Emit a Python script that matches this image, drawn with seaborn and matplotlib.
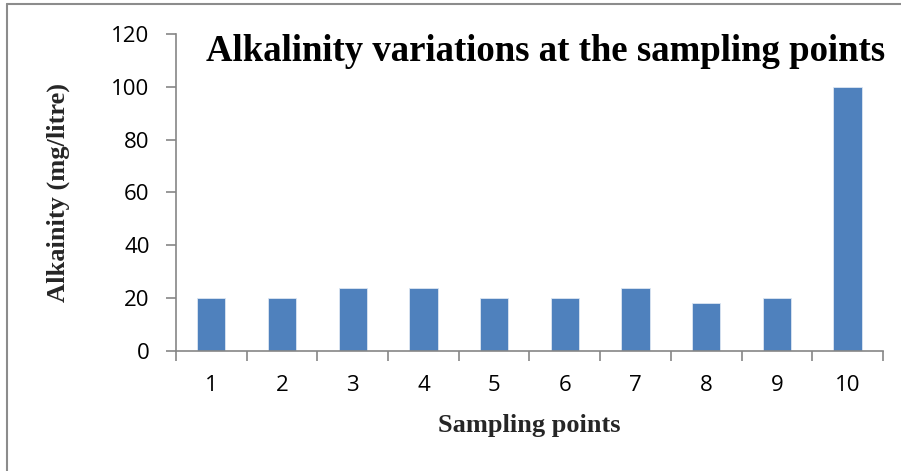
import matplotlib
matplotlib.use("Agg")
import matplotlib.pyplot as plt
import seaborn as sns
import pandas as pd
from matplotlib.lines import Line2D

# data
sampling_points = ["1", "2", "3", "4", "5", "6", "7", "8", "9", "10"]
alkalinity = [20, 20, 24, 24, 20, 20, 24, 18, 20, 100]

df = pd.DataFrame({"Sampling points": sampling_points, "Alkalinity": alkalinity})

sns.set_theme(style="white")
plt.rcParams["font.family"] = ["Open Sans", "DejaVu Sans"]

fig = plt.figure(figsize=(9.01, 4.71), dpi=100)
ax = fig.add_axes([0.1953, 0.2548, 0.7847, 0.673])

sns.barplot(data=df, x="Sampling points", y="Alkalinity", order=sampling_points,
            color="#4F81BD", saturation=1, width=0.4, edgecolor="#dce6f2",
            linewidth=0.6, ax=ax)

ax.set_xlim(-0.5, 9.5)
ax.set_ylim(0, 120)
ax.set_yticks(range(0, 121, 20))

grey = "#868686"
for side in ["top", "right"]:
    ax.spines[side].set_visible(False)
for side in ["left", "bottom"]:
    ax.spines[side].set_color(grey)
    ax.spines[side].set_linewidth(1.2)

# y ticks outward, x tick marks between categories
ax.tick_params(axis="y", which="major", direction="out", length=7, width=1.2,
               color=grey, labelsize=16, pad=12, left=True)
ax.tick_params(axis="x", which="major", length=0, labelsize=16, pad=17)
ax.set_xticks([i - 0.5 for i in range(11)], minor=True)
ax.tick_params(axis="x", which="minor", direction="out", length=7, width=1.2,
               color=grey, bottom=True)
for lbl in ax.get_xticklabels() + ax.get_yticklabels():
    lbl.set_color("black")

ax.set_xlabel("Sampling points", fontsize=19, fontweight="bold",
              family="Liberation Serif")
ax.set_ylabel("Alkainity (mg/litre)", fontsize=19, fontweight="bold",
              family="Liberation Serif")
ax.xaxis.set_label_coords(0.5, -0.2)
ax.yaxis.set_label_coords(-0.15, 0.5)

ax.text(0.523, 1.0, "Alkalinity variations at the sampling points",
        transform=ax.transAxes, ha="center", va="top", fontsize=26.5,
        fontweight="bold", family="Liberation Serif", color="black")

# outer frame (only left and top edges visible in the crop)
fig.add_artist(Line2D([0.0078, 0.0078], [0, 0.9915], transform=fig.transFigure,
                      color="#8c8c8c", linewidth=1.5))
fig.add_artist(Line2D([0.0078, 1.0], [0.9915, 0.9915], transform=fig.transFigure,
                      color="#8c8c8c", linewidth=1.5))

fig.savefig("out.png", dpi=100)
